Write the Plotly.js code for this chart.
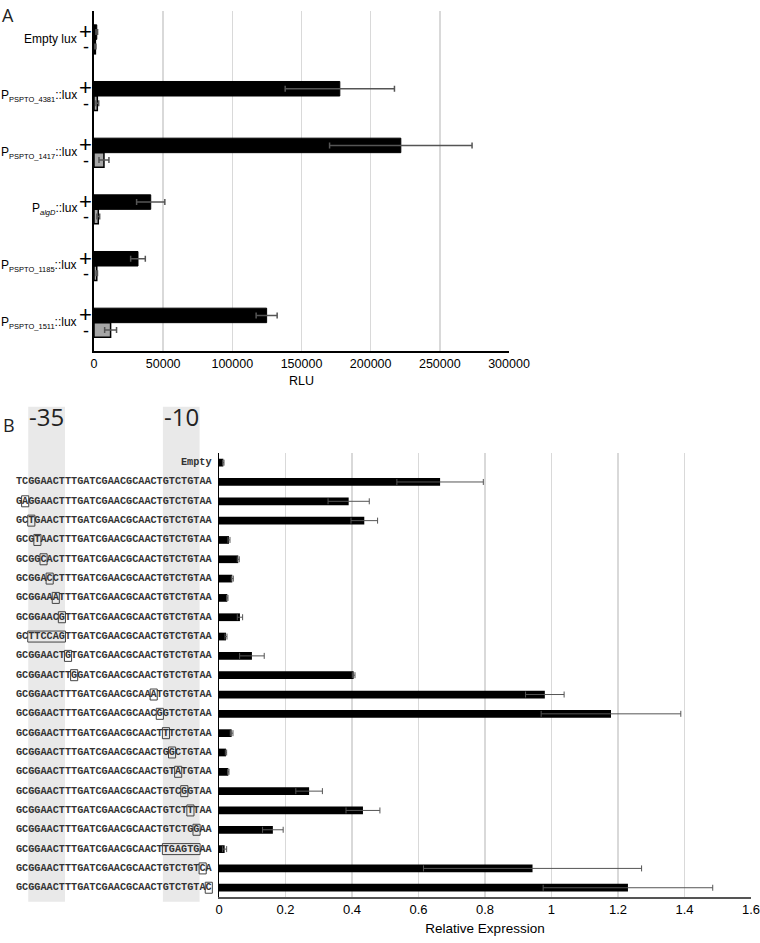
<!DOCTYPE html>
<html><head><meta charset="utf-8">
<script src="https://cdn.plot.ly/plotly-3.0.1.min.js"></script>
<style>html,body{margin:0;padding:0;background:#fff}</style>
</head><body><div id="chart" style="width:760px;height:943px"></div>
<script>
// ---------- Panel A data ----------
const aCategories = ['Empty lux', 'P<sub>PSPTO_4381</sub>::lux', 'P<sub>PSPTO_1417</sub>::lux',
  'P<sub><i>algD</i></sub>::lux', 'P<sub>PSPTO_1185</sub>::lux', 'P<sub>PSPTO_1511</sub>::lux'];
const aPlusValues  = [2000, 177700, 221800, 41000, 31800, 124800];
const aPlusErrors  = [600, 39500, 51500, 10200, 5300, 7600];
const aMinusValues = [1000, 2400, 7200, 3100, 2000, 12000];
const aMinusErrors = [400, 1000, 3600, 1000, 500, 4300];
const aTickValues  = [0, 50000, 100000, 150000, 200000, 250000, 300000];

// ---------- Panel B data ----------
const bCategories = ['Empty',
  'TCGGAACTTTGATCGAACGCAACTGTCTGTAA',
  'GAGGAACTTTGATCGAACGCAACTGTCTGTAA',
  'GCTGAACTTTGATCGAACGCAACTGTCTGTAA',
  'GCGTAACTTTGATCGAACGCAACTGTCTGTAA',
  'GCGGCACTTTGATCGAACGCAACTGTCTGTAA',
  'GCGGACCTTTGATCGAACGCAACTGTCTGTAA',
  'GCGGAAATTTGATCGAACGCAACTGTCTGTAA',
  'GCGGAACGTTGATCGAACGCAACTGTCTGTAA',
  'GCTTCCAGTTGATCGAACGCAACTGTCTGTAA',
  'GCGGAACTGTGATCGAACGCAACTGTCTGTAA',
  'GCGGAACTTGGATCGAACGCAACTGTCTGTAA',
  'GCGGAACTTTGATCGAACGCAAATGTCTGTAA',
  'GCGGAACTTTGATCGAACGCAACGGTCTGTAA',
  'GCGGAACTTTGATCGAACGCAACTTTCTGTAA',
  'GCGGAACTTTGATCGAACGCAACTGGCTGTAA',
  'GCGGAACTTTGATCGAACGCAACTGTATGTAA',
  'GCGGAACTTTGATCGAACGCAACTGTCGGTAA',
  'GCGGAACTTTGATCGAACGCAACTGTCTTTAA',
  'GCGGAACTTTGATCGAACGCAACTGTCTGGAA',
  'GCGGAACTTTGATCGAACGCAACTTGAGTGAA',
  'GCGGAACTTTGATCGAACGCAACTGTCTGTCA',
  'GCGGAACTTTGATCGAACGCAACTGTCTGTAC'];
const bReference = 'GCGGAACTTTGATCGAACGCAACTGTCTGTAA';
const bValues = [0.013, 0.665, 0.39, 0.437, 0.03, 0.058, 0.04, 0.025, 0.063, 0.021, 0.099, 0.405,
  0.98, 1.179, 0.038, 0.021, 0.028, 0.271, 0.433, 0.162, 0.017, 0.943, 1.23];
const bErrors = [0.002, 0.13, 0.062, 0.04, 0.003, 0.003, 0.003, 0.002, 0.008, 0.003, 0.037, 0.004,
  0.058, 0.21, 0.004, 0.002, 0.002, 0.04, 0.051, 0.031, 0.006, 0.328, 0.255];
const bTickValues = [0, 0.2, 0.4, 0.6, 0.8, 1, 1.2, 1.4, 1.6];

// ---------- geometry (pixels) ----------
const W = 760, H = 943;
const px = v => v / W, py = v => 1 - v / H;
const aLeft = 94, aRight = 509, aTop = 11, aBottom = 351;
const bLeft = 219, bRight = 751, bTop = 453, bBottom = 897.4;
const seqFont = 10.2, cw = seqFont * 0.6, seqLeft = 16;
const rowH = (bBottom - bTop) / bCategories.length;

const traces = [
  {type: 'bar', orientation: 'h', xaxis: 'x', yaxis: 'y',
   y: aCategories.map((c, i) => i), x: aPlusValues, offset: -0.256, width: 0.256,
   marker: {color: '#000', line: {color: '#000', width: 1}},
   error_x: {type: 'data', array: aPlusErrors, color: '#555', thickness: 1.5, width: 3},
   hoverinfo: 'x'},
  {type: 'bar', orientation: 'h', xaxis: 'x', yaxis: 'y',
   y: aCategories.map((c, i) => i), x: aMinusValues, offset: 0, width: 0.256,
   marker: {color: '#a6a6a6', line: {color: '#000', width: 1.5}},
   error_x: {type: 'data', array: aMinusErrors, color: '#555', thickness: 1.5, width: 3},
   hoverinfo: 'x'},
  {type: 'bar', orientation: 'h', xaxis: 'x2', yaxis: 'y2',
   y: bCategories, x: bValues, width: 0.4,
   marker: {color: '#000', line: {width: 0}},
   error_x: {type: 'data', array: bErrors, color: '#555', thickness: 1, width: 3},
   hoverinfo: 'x'}
];

const annotations = [];
const shapes = [];
const smallSub = t => t.replace(/<sub>(.*?)<\/sub>/, '<sub><span style="font-size:7.5px">$1</span></sub>');
// panel A category labels and +/- signs
aCategories.forEach((c, i) => {
  annotations.push({xref: 'paper', yref: 'y', x: px(77.5), y: i, xanchor: 'right', yanchor: 'middle',
    text: smallSub(c), showarrow: false, borderpad: 0,
    font: {family: 'Liberation Sans, Arial', size: 12, color: '#000'}});
  annotations.push({xref: 'paper', yref: 'y', x: px(85.5), y: i, yshift: 8, xanchor: 'center', yanchor: 'middle',
    text: '+', showarrow: false, borderpad: 0, font: {family: 'Liberation Sans, Arial', size: 22, color: '#000'}});
  annotations.push({xref: 'paper', yref: 'y', x: px(85.5), y: i, yshift: -8, xanchor: 'center', yanchor: 'middle',
    text: '-', showarrow: false, borderpad: 0, font: {family: 'Liberation Sans, Arial', size: 18, color: '#000'}});
});
// panel B sequence labels
bCategories.forEach((c, i) => {
  annotations.push({xref: 'paper', yref: 'y2', x: px(seqLeft + (32 - c.length) * cw), y: i,
    xanchor: 'left', yanchor: 'middle', borderpad: 0, borderwidth: 0,
    text: c, showarrow: false, font: {family: 'Liberation Mono, monospace', size: seqFont, color: '#333', weight: 'bold'}});
});
// boxes around mutated nucleotides (differences to the consensus)
bCategories.forEach((c, i) => {
  if (i < 2) return;
  let s = -1;
  for (let k = 0; k <= c.length; k++) {
    const diff = k < c.length && c[k] !== bReference[k];
    if (diff && s < 0) s = k;
    if (!diff && s >= 0) {
      const yc = bTop + (i + 0.5) * rowH;
      shapes.push({type: 'rect', xref: 'paper', yref: 'paper', layer: 'above',
        x0: px(seqLeft + s * cw - 0.5), x1: px(seqLeft + k * cw + 0.5),
        y0: py(yc - 5.5), y1: py(yc + 5.5), line: {color: '#444', width: 1}, fillcolor: 'rgba(0,0,0,0)'});
      s = -1;
    }
  }
});
// -35 and -10 shaded boxes
[[2, 8, '-35'], [24, 30, '-10']].forEach(r => {
  shapes.push({type: 'rect', xref: 'paper', yref: 'paper', layer: 'below',
    x0: px(seqLeft + r[0] * cw), x1: px(seqLeft + r[1] * cw), y0: py(901.7), y1: py(406.7),
    line: {width: 0}, fillcolor: '#e9e9e9'});
  annotations.push({xref: 'paper', yref: 'paper', x: px(seqLeft + (r[0] + r[1]) / 2 * cw), y: py(416),
    xanchor: 'center', yanchor: 'middle', text: r[2], showarrow: false,
    font: {family: 'Open Sans, sans-serif', size: 24, color: '#222'}});
});
annotations.push({xref: 'paper', yref: 'paper', x: px(1), y: py(2), xanchor: 'left', yanchor: 'top',
  text: 'A', showarrow: false, borderpad: 0, font: {family: 'Open Sans, sans-serif', size: 18, color: '#222'}});
annotations.push({xref: 'paper', yref: 'paper', x: px(1), y: py(425), xanchor: 'left', yanchor: 'middle',
  text: 'B', showarrow: false, font: {family: 'Open Sans, sans-serif', size: 18, color: '#222'}});

const axisFont = {family: 'Liberation Sans, Arial', size: 12.5, color: '#000'};
const layout = {
  width: W, height: H, margin: {l: 0, r: 0, t: 0, b: 0},
  paper_bgcolor: '#fff', plot_bgcolor: 'rgba(0,0,0,0)', showlegend: false, barmode: 'overlay',
  xaxis: {domain: [px(aLeft), px(aRight)], anchor: 'y', range: [0, 300000.1], tickvals: aTickValues,
    tickformat: 'd', showgrid: true, gridcolor: '#d9d9d9', gridwidth: 1.5, zeroline: false,
    showline: true, linecolor: '#000', linewidth: 2, ticks: '', tickfont: axisFont, ticklabeloverflow: 'allow',
    title: {text: 'RLU', font: axisFont, standoff: 6}, fixedrange: true},
  yaxis: {domain: [py(aBottom), py(aTop)], anchor: 'x', range: [5.5, -0.5], showticklabels: false,
    showgrid: false, zeroline: false, showline: true, linecolor: '#000', linewidth: 2, ticks: '', fixedrange: true},
  xaxis2: {domain: [px(bLeft), px(bRight)], anchor: 'y2', range: [0, 1.6001], tickvals: bTickValues,
    showgrid: true, gridcolor: '#d9d9d9', gridwidth: 1.2, zeroline: false, ticklabeloverflow: 'allow',
    showline: true, linecolor: '#555', linewidth: 1.2, ticks: '', tickfont: {family: 'Liberation Sans, Arial', size: 13, color: '#000'},
    title: {text: 'Relative Expression', font: {family: 'Liberation Sans, Arial', size: 13.5, color: '#000'}, standoff: 7}, fixedrange: true},
  yaxis2: {domain: [py(bBottom), py(bTop)], anchor: 'x2', type: 'category', autorange: 'reversed',
    showticklabels: false, showgrid: false, zeroline: false, showline: true, linecolor: '#000', linewidth: 1.5,
    ticks: '', fixedrange: true},
  annotations: annotations, shapes: shapes
};
Plotly.newPlot('chart', traces, layout, {displayModeBar: false, staticPlot: true});
</script></body></html>
